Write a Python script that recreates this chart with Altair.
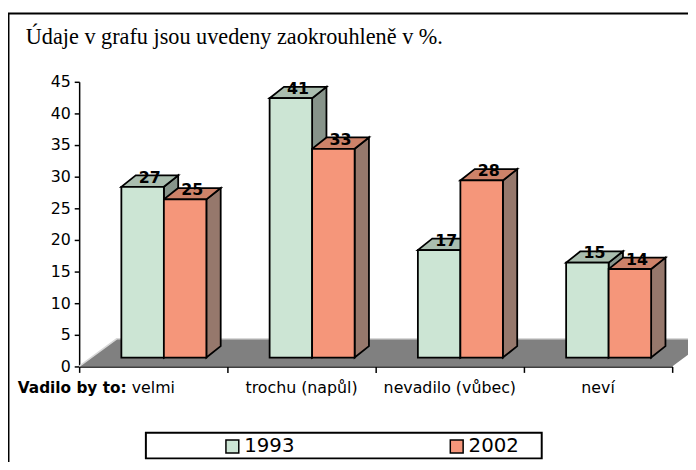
import altair as alt
import pandas as pd

# ---------------- data ----------------
categories = ["velmi", "trochu (napůl)", "nevadilo (vůbec)", "neví"]
series = ["1993", "2002"]
values_1993 = [27, 41, 17, 15]
values_2002 = [25, 33, 28, 14]
y_ticks = [0, 5, 10, 15, 20, 25, 30, 35, 40, 45]
title_text = "Údaje v grafu jsou uvedeny zaokrouhleně v %."
lead_text = "Vadilo by to:"

front_colors = ["#CCE5D4", "#F5967A"]
top_colors = ["#AABEAF", "#CD8269"]
side_colors = ["#87948A", "#96786C"]

# ---------------- geometry (style constants, px) ----------------
PLOT_W, PLOT_H = 600, 288
X_MAX, Y_MAX = len(categories), 45
PX_X = PLOT_W / X_MAX
PX_Y = PLOT_H / Y_MAX
BAR_W = 43 / PX_X
BAR_START = 42.7 / PX_X
LIFT = 9 / PX_Y
DX = 14.5 / PX_X
DY = 11.5 / PX_Y
FLOOR_DX = 38 / PX_X
FLOOR_DY = 28 / PX_Y
EDGE = 1.8

all_values = [values_1993, values_2002]

front_rows, side_rows, top_rows, label_rows = [], [], [], []
for s, (name, vals) in enumerate(zip(series, all_values)):
    for i, v in enumerate(vals):
        bid = f"{i}{s}"
        left = i + BAR_START + s * BAR_W
        right = left + BAR_W
        front_rows.append(dict(bid=bid, series=name, x0=left, x1=right, y0=LIFT, y1=LIFT + v))
        side_rows.append(dict(bid=bid, color=side_colors[s], x=right, y=LIFT, y2=LIFT + v))
        side_rows.append(dict(bid=bid, color=side_colors[s], x=right + DX, y=LIFT + DY, y2=LIFT + v + DY))
        top_rows.append(dict(bid=bid, color=top_colors[s], y=LIFT + v, x=left, x2=right))
        top_rows.append(dict(bid=bid, color=top_colors[s], y=LIFT + v + DY, x=left + DX, x2=right + DX))
        label_rows.append(dict(bid=bid, x=left + BAR_W / 2 + DX / 2, y=LIFT + v + DY / 2, label=str(v)))

front_df = pd.DataFrame(front_rows).sort_values("bid")
side_df = pd.DataFrame(side_rows).sort_values(["bid", "x"])
top_df = pd.DataFrame(top_rows).sort_values(["bid", "y"])
label_df = pd.DataFrame(label_rows)
cat_df = pd.DataFrame({"cat": categories, "xc": [i + 0.5 for i in range(len(categories))]})
floor_df = pd.DataFrame({"y": [0, FLOOR_DY], "x": [0, FLOOR_DX], "x2": [X_MAX, X_MAX + FLOOR_DX]})
edge_df = pd.DataFrame({"k": [0, 1, 2], "x": [0, FLOOR_DX, X_MAX + FLOOR_DX], "y": [0, FLOOR_DY, FLOOR_DY]})
one = pd.DataFrame({"a": [0]})

FONT = "DejaVu Sans"

xs = alt.Scale(domain=[0, X_MAX], nice=False, zero=False)
ys = alt.Scale(domain=[0, Y_MAX], nice=False, zero=False)
xaxis = alt.Axis(values=list(range(X_MAX + 1)), labels=False, title=None, grid=False,
                 domainColor="black", domainWidth=1.5, tickColor="black",
                 tickWidth=1.5, tickSize=6)
yaxis = alt.Axis(values=y_ticks, title=None, grid=False, domainColor="black",
                 domainWidth=1.5, tickColor="black", tickWidth=1.5, tickSize=5,
                 labelPadding=4, labelFont=FONT, labelFontSize=16, labelColor="black")


def X(field):
    return alt.X(field, scale=xs, axis=xaxis)


def Y(field):
    return alt.Y(field, scale=ys, axis=yaxis)


frame_top = alt.Chart(one).mark_rule(color="black", strokeWidth=2).encode(
    x=alt.value(-72), x2=alt.value(620), y=alt.value(-69))
frame_left = alt.Chart(one).mark_rule(color="black", strokeWidth=2).encode(
    x=alt.value(-71.5), y=alt.value(-69), y2=alt.value(400))
title = alt.Chart(one).mark_text(font="Liberation Serif", fontSize=22.5, align="left",
                                 baseline="alphabetic", color="black").encode(
    x=alt.value(-54), y=alt.value(-38), text=alt.value(title_text))

floor = alt.Chart(floor_df).mark_area(orient="horizontal", color="#808080").encode(
    y=Y("y:Q"), x=X("x:Q"), x2="x2:Q")
floor_edge = alt.Chart(edge_df).mark_line(color="#d8d8d8", strokeWidth=1.5).encode(
    x=X("x:Q"), y=Y("y:Q"), order="k:Q")

sides = alt.Chart(side_df).mark_area(orient="vertical", stroke="black", strokeWidth=EDGE,
                                     fillOpacity=1).encode(
    x=X("x:Q"), y=Y("y:Q"), y2="y2:Q",
    fill=alt.Fill("color:N", scale=None), detail="bid:N")
tops = alt.Chart(top_df).mark_area(orient="horizontal", stroke="black", strokeWidth=EDGE,
                                   fillOpacity=1).encode(
    y=Y("y:Q"), x=X("x:Q"), x2="x2:Q",
    fill=alt.Fill("color:N", scale=None), detail="bid:N")

fronts = alt.Chart(front_df).mark_rect(stroke="black", strokeWidth=EDGE).encode(
    x=X("x0:Q"), x2="x1:Q", y=Y("y0:Q"), y2="y1:Q",
    fill=alt.Fill("series:N", scale=alt.Scale(domain=series, range=front_colors),
                  legend=alt.Legend(title=None, orient="none", legendX=145, legendY=359,
                                    direction="horizontal", symbolType="square",
                                    symbolSize=169, symbolStrokeColor="black",
                                    symbolStrokeWidth=1.5, labelFont=FONT, labelFontSize=20,
                                    labelColor="black", labelOffset=2, columnPadding=154,
                                    padding=0)))

labels = alt.Chart(label_df).mark_text(font=FONT, fontSize=16, fontWeight="bold",
                                       align="center", baseline="alphabetic", dy=1.5,
                                       color="black").encode(
    x=X("x:Q"), y=Y("y:Q"), text="label:N")

cat_labels = alt.Chart(cat_df).mark_text(font=FONT, fontSize=16, align="center",
                                         baseline="alphabetic", color="black").encode(
    x=X("xc:Q"), y=alt.value(315), text="cat:N")
lead = alt.Chart(one).mark_text(font=FONT, fontSize=15.5, fontWeight="bold", align="right",
                                baseline="alphabetic", color="black").encode(
    x=alt.value(48), y=alt.value(315), text=alt.value(lead_text))

legend_box = alt.Chart(one).mark_rect(fill="white", stroke="black", strokeWidth=2).encode(
    x=alt.value(67.5), x2=alt.value(468), y=alt.value(355), y2=alt.value(381))

chart = alt.layer(
    frame_top, frame_left, title, floor, floor_edge, sides, tops, fronts, labels,
    cat_labels, lead, legend_box
).properties(
    width=PLOT_W, height=PLOT_H,
    padding={"left": 72, "top": 72, "right": 16, "bottom": 94},
    autosize=alt.AutoSizeParams(type="none"),
    background="white",
).configure_view(stroke=None)

chart.save("out.html", embed_options={"renderer": "svg", "actions": False})
